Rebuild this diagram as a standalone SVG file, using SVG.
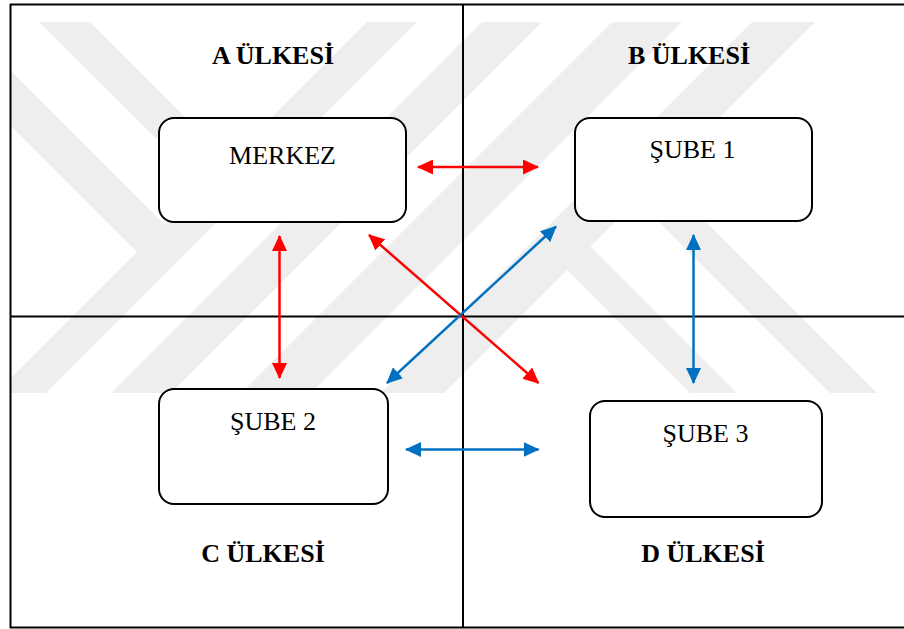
<svg xmlns="http://www.w3.org/2000/svg" width="904" height="629" viewBox="0 0 904 629">
  <style>
    .frame { stroke: #000; stroke-width: 2; fill: none; }
    .box { fill: #fff; stroke: #000; stroke-width: 2; }
    .lbl { font-family: "Liberation Serif", "Times New Roman", serif; font-size: 26px; fill: #000; text-anchor: middle; }
    .hdr { font-family: "Liberation Serif", "Times New Roman", serif; font-size: 26px; font-weight: bold; fill: #000; text-anchor: middle; }
    .red { stroke: #FF0000; stroke-width: 2.5; fill: none; marker-start: url(#hr); marker-end: url(#hr); }
    .blue { stroke: #0070C0; stroke-width: 2.5; fill: none; marker-start: url(#hb); marker-end: url(#hb); }
    .wm { fill: #eeeeee; stroke: none; }
  </style>
  <defs>
    <marker id="hr" viewBox="0 0 16 15" refX="15" refY="7.5" markerWidth="16" markerHeight="15" markerUnits="userSpaceOnUse" orient="auto-start-reverse">
      <path d="M0,0 L16,7.5 L0,15 z" fill="#FF0000"/>
    </marker>
    <marker id="hb" viewBox="0 0 16 15" refX="15" refY="7.5" markerWidth="16" markerHeight="15" markerUnits="userSpaceOnUse" orient="auto-start-reverse">
      <path d="M0,0 L16,7.5 L0,15 z" fill="#0070C0"/>
    </marker>
    <clipPath id="inner">
      <rect x="11" y="5" width="893" height="622"/>
    </clipPath>
  </defs>
  <rect x="0" y="0" width="904" height="629" fill="#fff"/>

  <g id="watermark" class="wm" clip-path="url(#inner)">
    <polygon points="367,22 417,22 46,393 -4,393"/>
    <polygon points="482,22 542,22 171,393 111,393"/>
    <polygon points="612,22 682,22 311,393 241,393"/>
    <polygon points="752,22 815,22 444,393 381,393"/>
    <polygon points="39,22 90,22 234,166 209,191"/>
    <polygon points="-20,40 170,230 142.5,257.5 -20,95"/>
    <polygon points="585,241 737,393 690,393 561.5,264.5"/>
    <polygon points="655,171 877,393 830,393 631.5,194.5"/>
  </g>

  <g id="frame">
    <path class="frame" d="M10,4.5 H904 M10.5,4 V628 M10,627.5 H904 M463,4 V628 M10,316.5 H904"/>
  </g>

  <g id="titles">
    <text class="hdr" x="273" y="64">A ÜLKESİ</text>
    <text class="hdr" x="689" y="64">B ÜLKESİ</text>
    <text class="hdr" x="263" y="562">C ÜLKESİ</text>
    <text class="hdr" x="703" y="562">D ÜLKESİ</text>
  </g>

  <g id="merkez">
    <rect class="box" x="159" y="118" width="247" height="104" rx="15"/>
    <text class="lbl" x="282.5" y="164">MERKEZ</text>
  </g>
  <g id="sube1">
    <rect class="box" x="575" y="118" width="237" height="103" rx="15"/>
    <text class="lbl" x="692.5" y="158">ŞUBE 1</text>
  </g>
  <g id="sube2">
    <rect class="box" x="159" y="389" width="229" height="115" rx="15"/>
    <text class="lbl" x="273" y="430">ŞUBE 2</text>
  </g>
  <g id="sube3">
    <rect class="box" x="590" y="401" width="232" height="116" rx="15"/>
    <text class="lbl" x="705.5" y="442">ŞUBE 3</text>
  </g>

  <g id="connectors">
    <line class="red" x1="418" y1="167" x2="538" y2="167"/>
    <line class="red" x1="279.5" y1="236" x2="279.5" y2="378"/>
    <line class="red" x1="369" y1="235" x2="538.5" y2="383"/>
    <line class="blue" x1="556" y1="226.5" x2="387" y2="383"/>
    <line class="blue" x1="693.5" y1="235" x2="693.5" y2="383"/>
    <line class="blue" x1="406" y1="449.5" x2="538.5" y2="449.5"/>
  </g>
</svg>
